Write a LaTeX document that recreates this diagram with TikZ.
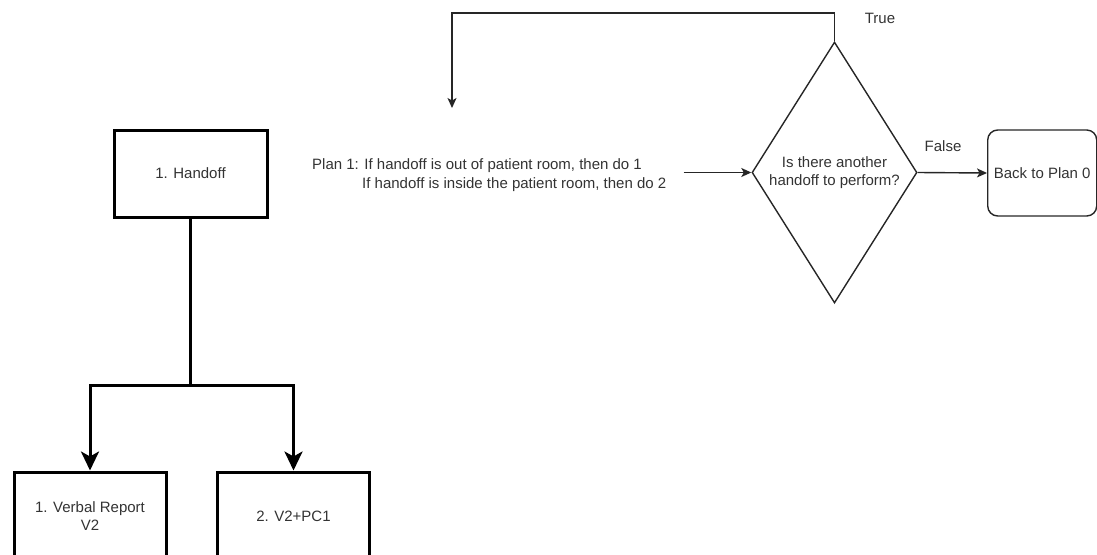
\documentclass[tikz,border=0pt]{standalone}
\usepackage{fontspec}
\setmainfont{Liberation Sans}
\usetikzlibrary{arrows.meta,shapes.geometric}
\definecolor{txt}{HTML}{333333}
\begin{document}
\begin{tikzpicture}[x=1pt,y=-1pt,
  font=\fontsize{15}{18.5}\selectfont,
  every node/.style={text=txt},
  taskbox/.style={draw=black,line width=3pt,inner sep=0pt,align=center},
  thickarrow/.style={line width=3pt,-{Stealth[length=19pt,width=18pt,inset=5pt]}},
  thinline/.style={line width=1.4pt,draw=black!85},
  thinarrow/.style={thinline,-{Stealth[length=10pt,width=9pt,inset=2.5pt]}},
  decision/.style={diamond,draw=black!85,line width=1.4pt,inner sep=0pt,
    minimum width=165pt,minimum height=261pt,align=center},
  endbox/.style={draw=black!85,line width=1.4pt,rounded corners=10pt,inner sep=0pt,
    minimum width=109pt,minimum height=86pt,align=center},
  lbl/.style={inner sep=0pt}]
\useasboundingbox (0,0) rectangle (1097,554);

% hierarchical task analysis
\node[taskbox,minimum width=153pt,minimum height=87pt] (handoff) at (190.5,173.5) {1. Handoff};
\node[taskbox,minimum width=152pt,minimum height=88pt] (verbal) at (90,516) {1. Verbal Report\\V2};
\node[taskbox,minimum width=152pt,minimum height=88pt] (pc) at (293.5,516) {2. V2+PC1};
\coordinate (split) at (190.5,385);
\draw[line width=3pt] (handoff.south) -- (split);
\draw[thickarrow] (split) -| (verbal.north);
\draw[thickarrow] (split) -| (pc.north);

% plan flow
\node[lbl,anchor=west,align=left] (plan) at (312,175)
  {Plan 1: If handoff is out of patient room, then do 1\\
   \hspace*{50pt}If handoff is inside the patient room, then do 2};
\node[decision] (dec) at (834.5,172.5) {Is there another\\handoff to perform?};
\node[endbox,anchor=west] (back) at (987,173) {Back to Plan 0};

\draw[thinarrow] ([xshift=17pt]dec.west -| plan.east) -- (dec.west);
\draw[thinarrow] (dec.east) -- (back.west);

\coordinate (loopcorner) at (452,13);
\coordinate (loopend) at (452,108);
\draw[thinarrow] (dec.north) |- (loopcorner) -- (loopend);

\node[lbl] (true) at (880,18) {True};
\node[lbl] (false) at (943,146) {False};
\end{tikzpicture}
\end{document}
